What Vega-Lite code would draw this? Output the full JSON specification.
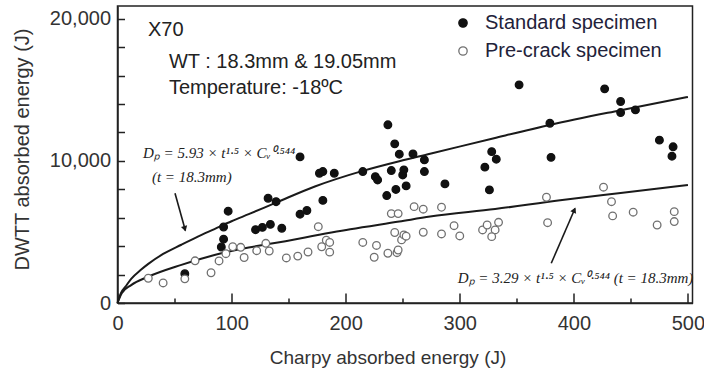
{
  "$schema": "https://vega.github.io/schema/vega-lite/v6.json",
  "width": 575,
  "height": 297,
  "autosize": "none",
  "padding": {"left": 117.5, "top": 6, "right": 11.5, "bottom": 69},
  "background": "white",
  "config": {
    "font": "Liberation Sans",
    "view": {"stroke": "#222", "strokeWidth": 1.5},
    "axis": {
      "grid": false,
      "domainColor": "#222",
      "domainWidth": 1.5,
      "tickColor": "#222",
      "tickWidth": 1.5,
      "labelFont": "Liberation Sans",
      "labelFontSize": 20,
      "labelColor": "#333",
      "titleFont": "Liberation Sans",
      "titleFontSize": 19,
      "titleFontWeight": "normal",
      "titleColor": "#333"
    },
    "legend": {
      "orient": "none",
      "legendX": 335.5,
      "legendY": 7,
      "padding": 0,
      "labelFont": "Liberation Sans",
      "labelFontSize": 20,
      "labelColor": "#22223a",
      "labelLimit": 0,
      "labelOffset": 12,
      "rowPadding": 8,
      "symbolSize": 70,
      "symbolStrokeWidth": 1.3
    }
  },
  "datasets": {
    "points": [
      {"x": 59, "y": 2060, "specimen": "Standard specimen"},
      {"x": 91, "y": 3940, "specimen": "Standard specimen"},
      {"x": 93, "y": 4490, "specimen": "Standard specimen"},
      {"x": 93, "y": 5350, "specimen": "Standard specimen"},
      {"x": 97, "y": 6460, "specimen": "Standard specimen"},
      {"x": 121, "y": 5160, "specimen": "Standard specimen"},
      {"x": 127, "y": 5320, "specimen": "Standard specimen"},
      {"x": 134, "y": 5530, "specimen": "Standard specimen"},
      {"x": 132, "y": 7370, "specimen": "Standard specimen"},
      {"x": 139, "y": 7130, "specimen": "Standard specimen"},
      {"x": 144, "y": 5260, "specimen": "Standard specimen"},
      {"x": 160, "y": 6250, "specimen": "Standard specimen"},
      {"x": 166, "y": 6510, "specimen": "Standard specimen"},
      {"x": 160, "y": 10280, "specimen": "Standard specimen"},
      {"x": 180, "y": 7220, "specimen": "Standard specimen"},
      {"x": 177, "y": 9130, "specimen": "Standard specimen"},
      {"x": 180, "y": 9250, "specimen": "Standard specimen"},
      {"x": 190, "y": 9130, "specimen": "Standard specimen"},
      {"x": 215, "y": 9250, "specimen": "Standard specimen"},
      {"x": 226, "y": 8890, "specimen": "Standard specimen"},
      {"x": 228, "y": 8660, "specimen": "Standard specimen"},
      {"x": 236, "y": 7560, "specimen": "Standard specimen"},
      {"x": 237, "y": 12540, "specimen": "Standard specimen"},
      {"x": 243, "y": 11200, "specimen": "Standard specimen"},
      {"x": 247, "y": 10470, "specimen": "Standard specimen"},
      {"x": 240, "y": 9320, "specimen": "Standard specimen"},
      {"x": 244, "y": 7990, "specimen": "Standard specimen"},
      {"x": 250, "y": 9010, "specimen": "Standard specimen"},
      {"x": 251, "y": 9370, "specimen": "Standard specimen"},
      {"x": 253, "y": 8240, "specimen": "Standard specimen"},
      {"x": 259, "y": 10490, "specimen": "Standard specimen"},
      {"x": 269, "y": 10070, "specimen": "Standard specimen"},
      {"x": 269, "y": 9250, "specimen": "Standard specimen"},
      {"x": 287, "y": 8380, "specimen": "Standard specimen"},
      {"x": 322, "y": 9560, "specimen": "Standard specimen"},
      {"x": 328, "y": 10650, "specimen": "Standard specimen"},
      {"x": 332, "y": 10120, "specimen": "Standard specimen"},
      {"x": 326, "y": 7960, "specimen": "Standard specimen"},
      {"x": 352, "y": 15350, "specimen": "Standard specimen"},
      {"x": 379, "y": 12650, "specimen": "Standard specimen"},
      {"x": 380, "y": 10250, "specimen": "Standard specimen"},
      {"x": 427, "y": 15070, "specimen": "Standard specimen"},
      {"x": 441, "y": 14180, "specimen": "Standard specimen"},
      {"x": 441, "y": 13400, "specimen": "Standard specimen"},
      {"x": 454, "y": 13590, "specimen": "Standard specimen"},
      {"x": 475, "y": 11460, "specimen": "Standard specimen"},
      {"x": 487, "y": 10990, "specimen": "Standard specimen"},
      {"x": 486, "y": 10330, "specimen": "Standard specimen"},
      {"x": 27, "y": 1740, "specimen": "Pre-crack specimen"},
      {"x": 40, "y": 1410, "specimen": "Pre-crack specimen"},
      {"x": 59, "y": 1700, "specimen": "Pre-crack specimen"},
      {"x": 68, "y": 2970, "specimen": "Pre-crack specimen"},
      {"x": 82, "y": 2130, "specimen": "Pre-crack specimen"},
      {"x": 89, "y": 2960, "specimen": "Pre-crack specimen"},
      {"x": 95, "y": 3470, "specimen": "Pre-crack specimen"},
      {"x": 101, "y": 3960, "specimen": "Pre-crack specimen"},
      {"x": 108, "y": 3920, "specimen": "Pre-crack specimen"},
      {"x": 111, "y": 3200, "specimen": "Pre-crack specimen"},
      {"x": 122, "y": 3680, "specimen": "Pre-crack specimen"},
      {"x": 130, "y": 4200, "specimen": "Pre-crack specimen"},
      {"x": 133, "y": 3660, "specimen": "Pre-crack specimen"},
      {"x": 148, "y": 3170, "specimen": "Pre-crack specimen"},
      {"x": 158, "y": 3300, "specimen": "Pre-crack specimen"},
      {"x": 167, "y": 3590, "specimen": "Pre-crack specimen"},
      {"x": 176, "y": 5370, "specimen": "Pre-crack specimen"},
      {"x": 179, "y": 3960, "specimen": "Pre-crack specimen"},
      {"x": 183, "y": 4420, "specimen": "Pre-crack specimen"},
      {"x": 186, "y": 4260, "specimen": "Pre-crack specimen"},
      {"x": 186, "y": 3580, "specimen": "Pre-crack specimen"},
      {"x": 215, "y": 4260, "specimen": "Pre-crack specimen"},
      {"x": 225, "y": 3220, "specimen": "Pre-crack specimen"},
      {"x": 227, "y": 4050, "specimen": "Pre-crack specimen"},
      {"x": 237, "y": 3500, "specimen": "Pre-crack specimen"},
      {"x": 240, "y": 6290, "specimen": "Pre-crack specimen"},
      {"x": 246, "y": 6290, "specimen": "Pre-crack specimen"},
      {"x": 243, "y": 4960, "specimen": "Pre-crack specimen"},
      {"x": 245, "y": 3540, "specimen": "Pre-crack specimen"},
      {"x": 246, "y": 3730, "specimen": "Pre-crack specimen"},
      {"x": 249, "y": 4440, "specimen": "Pre-crack specimen"},
      {"x": 251, "y": 4790, "specimen": "Pre-crack specimen"},
      {"x": 253, "y": 4700, "specimen": "Pre-crack specimen"},
      {"x": 260, "y": 6780, "specimen": "Pre-crack specimen"},
      {"x": 268, "y": 6600, "specimen": "Pre-crack specimen"},
      {"x": 268, "y": 4980, "specimen": "Pre-crack specimen"},
      {"x": 284, "y": 6740, "specimen": "Pre-crack specimen"},
      {"x": 284, "y": 4860, "specimen": "Pre-crack specimen"},
      {"x": 295, "y": 5440, "specimen": "Pre-crack specimen"},
      {"x": 300, "y": 4720, "specimen": "Pre-crack specimen"},
      {"x": 320, "y": 5140, "specimen": "Pre-crack specimen"},
      {"x": 324, "y": 5490, "specimen": "Pre-crack specimen"},
      {"x": 331, "y": 5140, "specimen": "Pre-crack specimen"},
      {"x": 334, "y": 5680, "specimen": "Pre-crack specimen"},
      {"x": 328, "y": 4670, "specimen": "Pre-crack specimen"},
      {"x": 376, "y": 7440, "specimen": "Pre-crack specimen"},
      {"x": 377, "y": 5650, "specimen": "Pre-crack specimen"},
      {"x": 426, "y": 8150, "specimen": "Pre-crack specimen"},
      {"x": 433, "y": 7130, "specimen": "Pre-crack specimen"},
      {"x": 434, "y": 6130, "specimen": "Pre-crack specimen"},
      {"x": 452, "y": 6390, "specimen": "Pre-crack specimen"},
      {"x": 473, "y": 5490, "specimen": "Pre-crack specimen"},
      {"x": 488, "y": 6430, "specimen": "Pre-crack specimen"},
      {"x": 488, "y": 5730, "specimen": "Pre-crack specimen"}
    ],
    "curves": [
      {"x": 0, "y": 0, "curve": "standard"},
      {"x": 3, "y": 700, "curve": "standard"},
      {"x": 7, "y": 1150, "curve": "standard"},
      {"x": 12, "y": 1700, "curve": "standard"},
      {"x": 20, "y": 2300, "curve": "standard"},
      {"x": 27, "y": 2750, "curve": "standard"},
      {"x": 40, "y": 3450, "curve": "standard"},
      {"x": 56, "y": 4100, "curve": "standard"},
      {"x": 70, "y": 4650, "curve": "standard"},
      {"x": 85, "y": 5200, "curve": "standard"},
      {"x": 100, "y": 5750, "curve": "standard"},
      {"x": 115, "y": 6250, "curve": "standard"},
      {"x": 140, "y": 7100, "curve": "standard"},
      {"x": 173, "y": 8200, "curve": "standard"},
      {"x": 215, "y": 9300, "curve": "standard"},
      {"x": 247, "y": 9980, "curve": "standard"},
      {"x": 274, "y": 10500, "curve": "standard"},
      {"x": 330, "y": 11600, "curve": "standard"},
      {"x": 380, "y": 12550, "curve": "standard"},
      {"x": 440, "y": 13550, "curve": "standard"},
      {"x": 500, "y": 14500, "curve": "standard"},
      {"x": 0, "y": 0, "curve": "precrack"},
      {"x": 3.7, "y": 680, "curve": "precrack"},
      {"x": 12, "y": 1260, "curve": "precrack"},
      {"x": 27, "y": 1850, "curve": "precrack"},
      {"x": 56, "y": 2680, "curve": "precrack"},
      {"x": 85, "y": 3380, "curve": "precrack"},
      {"x": 115, "y": 3900, "curve": "precrack"},
      {"x": 135, "y": 4180, "curve": "precrack"},
      {"x": 204, "y": 5190, "curve": "precrack"},
      {"x": 247, "y": 5730, "curve": "precrack"},
      {"x": 274, "y": 6080, "curve": "precrack"},
      {"x": 331, "y": 6610, "curve": "precrack"},
      {"x": 388, "y": 7230, "curve": "precrack"},
      {"x": 441, "y": 7740, "curve": "precrack"},
      {"x": 500, "y": 8300, "curve": "precrack"}
    ],
    "arrows": [
      {"arrow": "standard", "x": 50.4, "y": 7725, "x2": 59.5, "y2": 5100},
      {"arrow": "precrack", "x": 380.2, "y": 2796, "x2": 401, "y2": 6650}
    ],
    "heads": [
      {"arrow": "standard", "x": 59.0, "y": 5225},
      {"arrow": "precrack", "x": 400.4, "y": 6542}
    ],
    "notes": [
      {"text": "X70", "x": 26.7, "y": 19225},
      {"text": "WT : 18.3mm & 19.05mm", "x": 45.1, "y": 16972},
      {"text": "Temperature: -18ºC", "x": 45.1, "y": 15141}
    ],
    "equations": [
      {"text": "Dₚ = 5.93 × t¹·⁵ × Cᵥ⁰·⁵⁴⁴", "x": 22.3, "y": 10563},
      {"text": "(t = 18.3mm)", "x": 30.2, "y": 8873},
      {"text": "Dₚ = 3.29 × t¹·⁵ × Cᵥ⁰·⁵⁴⁴ (t = 18.3mm)", "x": 298.2, "y": 1761}
    ]
  },
  "encoding": {
    "x": {
      "field": "x", "type": "quantitative",
      "scale": {"domain": [0, 504], "nice": false, "zero": true},
      "axis": {
        "title": "Charpy absorbed energy (J)",
        "values": [0, 50, 100, 150, 200, 250, 300, 350, 400, 450, 500],
        "labelExpr": "format(datum.value, 'd')",
        "labelOpacity": {"condition": {"test": "datum.value % 100 === 0", "value": 1}, "value": 0},
        "labelOverlap": false,
        "labelFlush": false,
        "ticks": true,
        "tickSize": {"condition": {"test": "datum.value % 100 === 0", "value": -10}, "value": -5},
        "labelPadding": 20,
        "titleX": 270, "titleY": 54, "titleBaseline": "middle", "titleAnchor": "start", "titleAlign": "center"
      }
    },
    "y": {
      "field": "y", "type": "quantitative",
      "scale": {"domain": [0, 20900], "nice": false},
      "axis": {
        "title": "DWTT absorbed energy (J)",
        "values": [0, 2000, 4000, 6000, 8000, 10000, 12000, 14000, 16000, 18000, 20000],
        "labelExpr": "format(datum.value, ',')",
        "labelOpacity": {"condition": {"test": "datum.value % 10000 === 0", "value": 1}, "value": 0},
        "labelOverlap": false,
        "labelFlush": false,
        "ticks": true,
        "tickSize": -7,
        "labelPadding": 14,
        "titleFontSize": 20,
        "titleX": -95, "titleY": 143, "titleAngle": -90, "titleBaseline": "middle", "titleAlign": "center", "titleAnchor": "start"
      }
    }
  },
  "layer": [
    {
      "data": {"name": "curves"},
      "mark": {"type": "line", "color": "#1a1a1a", "strokeWidth": 2, "interpolate": "monotone"},
      "encoding": {"detail": {"field": "curve"}}
    },
    {
      "data": {"name": "points"},
      "mark": {"type": "point", "filled": false, "shape": "circle", "size": 58, "strokeWidth": 1.3, "opacity": 1},
      "encoding": {
        "fill": {
          "field": "specimen", "type": "nominal",
          "scale": {"domain": ["Standard specimen", "Pre-crack specimen"], "range": ["#111111", "#ffffff"]},
          "legend": {"title": null}
        },
        "stroke": {
          "field": "specimen", "type": "nominal",
          "scale": {"domain": ["Standard specimen", "Pre-crack specimen"], "range": ["#111111", "#707070"]},
          "legend": {"title": null}
        }
      }
    },
    {
      "data": {"name": "arrows"},
      "mark": {"type": "rule", "color": "#1a1a1a", "strokeWidth": 1.6},
      "encoding": {
        "x2": {"field": "x2"},
        "y2": {"field": "y2"}
      }
    },
    {
      "data": {"name": "heads"},
      "transform": [{"filter": "datum.arrow === 'standard'"}],
      "mark": {"type": "point", "shape": "triangle-up", "filled": true, "color": "#1a1a1a", "size": 40, "angle": 164, "opacity": 1},
      "encoding": {}
    },
    {
      "data": {"name": "heads"},
      "transform": [{"filter": "datum.arrow === 'precrack'"}],
      "mark": {"type": "point", "shape": "triangle-up", "filled": true, "color": "#1a1a1a", "size": 40, "angle": 23.5, "opacity": 1},
      "encoding": {}
    },
    {
      "data": {"name": "notes"},
      "mark": {"type": "text", "align": "left", "baseline": "middle", "font": "Liberation Sans", "fontSize": 20, "color": "#222"},
      "encoding": {"text": {"field": "text"}}
    },
    {
      "data": {"name": "equations"},
      "mark": {"type": "text", "align": "left", "baseline": "middle", "font": "Liberation Serif", "fontStyle": "italic", "fontSize": 15, "color": "#222"},
      "encoding": {"text": {"field": "text"}}
    }
  ]
}
